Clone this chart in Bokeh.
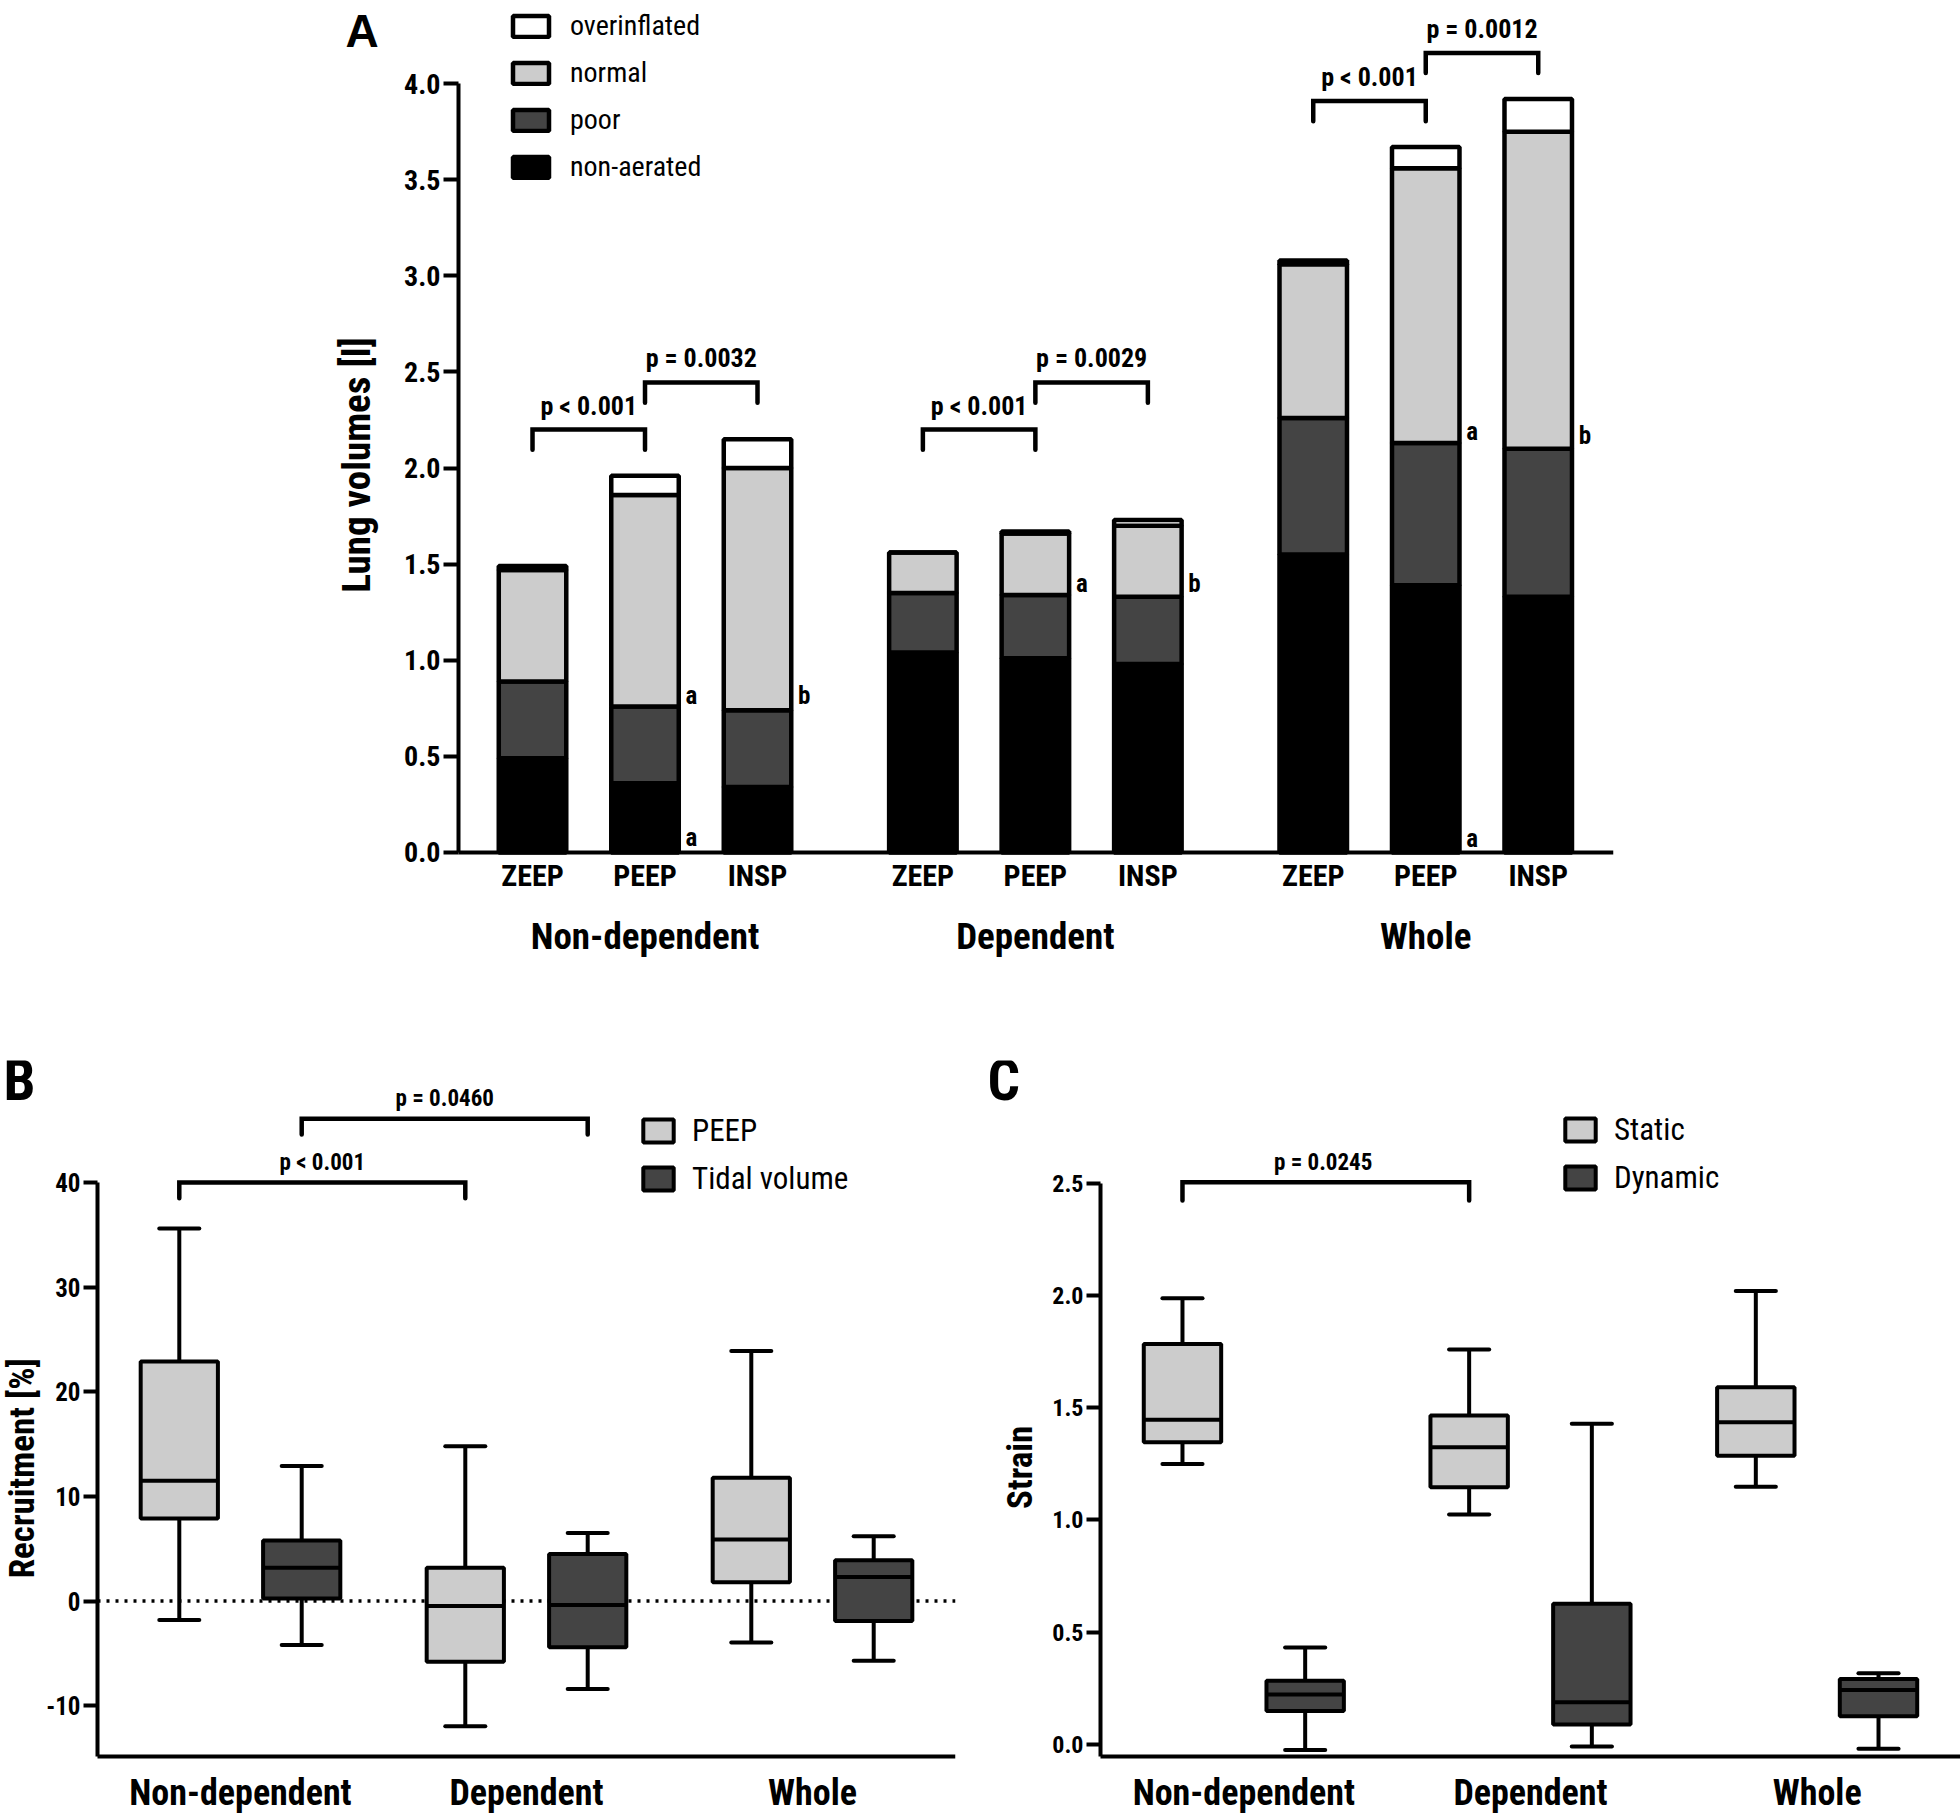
from math import pi
from bokeh.plotting import figure
from bokeh.models import (Range1d, FixedTicker, LinearAxis, NumeralTickFormatter,
                          Legend, LegendItem, ColumnDataSource)
from bokeh.layouts import column, row
from bokeh.embed import file_html
from bokeh.resources import INLINE
from bokeh.core.properties import value

# ================= DATA =================
groups = ["Non-dependent", "Dependent", "Whole"]
conditions = ["ZEEP", "PEEP", "INSP"]

# Panel A - lung volumes [l]; order: ND ZEEP/PEEP/INSP, Dep ZEEP/PEEP/INSP, Whole ZEEP/PEEP/INSP
non_aerated  = [0.49, 0.36, 0.34, 1.04, 1.01, 0.98, 1.55, 1.39, 1.33]
poor         = [0.40, 0.40, 0.40, 0.31, 0.33, 0.35, 0.71, 0.74, 0.77]
normal       = [0.58, 1.10, 1.26, 0.21, 0.32, 0.37, 0.80, 1.43, 1.65]
overinflated = [0.02, 0.10, 0.15, 0.00, 0.01, 0.03, 0.02, 0.11, 0.17]

# Panel A comparisons: (group, cond_from, cond_to, bracket level, label)
a_pvalues = [(0, 0, 1, 2.20, "p < 0.001"), (0, 1, 2, 2.445, "p = 0.0032"),
             (1, 0, 1, 2.20, "p < 0.001"), (1, 1, 2, 2.445, "p = 0.0029"),
             (2, 0, 1, 3.91, "p < 0.001"), (2, 1, 2, 4.16, "p = 0.0012")]
# Panel A significance letters: (group, cond, level, letter)
a_letters = [(0, 1, 0.815, "a"), (0, 1, 0.076, "a"), (0, 2, 0.815, "b"),
             (1, 1, 1.40, "a"), (1, 2, 1.40, "b"),
             (2, 1, 2.19, "a"), (2, 1, 0.07, "a"), (2, 2, 2.17, "b")]

# Panel B - recruitment [%] (min, Q1, median, Q3, max) per group
rec_series = ["PEEP", "Tidal volume"]
peep_low  = [-1.8, -11.95, -3.96]
peep_q1   = [7.9, -5.8, 1.8]
peep_med  = [11.5, -0.46, 5.9]
peep_q3   = [22.9, 3.2, 11.8]
peep_high = [35.6, 14.8, 23.9]
tv_low  = [-4.2, -8.4, -5.7]
tv_q1   = [0.24, -4.4, -1.9]
tv_med  = [3.2, -0.37, 2.3]
tv_q3   = [5.8, 4.5, 3.9]
tv_high = [12.9, 6.5, 6.2]
# (group_from, group_to, series index, bracket level, label)
b_pvalues = [(0, 1, 0, 40.0, "p < 0.001"), (0, 1, 1, 46.1, "p = 0.0460")]

# Panel C - strain
strain_series = ["Static", "Dynamic"]
static_low  = [1.249, 1.024, 1.148]
static_q1   = [1.346, 1.145, 1.286]
static_med  = [1.446, 1.324, 1.435]
static_q3   = [1.784, 1.465, 1.591]
static_high = [1.988, 1.759, 2.02]
dyn_low  = [-0.026, -0.01, -0.02]
dyn_q1   = [0.148, 0.088, 0.125]
dyn_med  = [0.222, 0.187, 0.242]
dyn_q3   = [0.283, 0.626, 0.291]
dyn_high = [0.431, 1.428, 0.316]
c_pvalues = [(0, 1, 0, 2.504, "p =  0.0245")]

# ================= STYLE =================
NARROW = "Roboto Condensed, Liberation Sans Narrow, Liberation Sans, sans-serif"
WIDE = "Liberation Sans, sans-serif"
LIGHT = "#cccccc"
DARK = "#444444"


def base_fig(**kw):
    p = figure(output_backend="svg", toolbar_location=None, **kw)
    p.grid.grid_line_color = None
    p.outline_line_color = None
    p.background_fill_color = "white"
    p.border_fill_color = "white"
    return p


def style_axis(ax, size, tick_out=15):
    ax.axis_line_color = "black"
    ax.axis_line_width = 4
    ax.major_tick_line_color = "black"
    ax.major_tick_line_width = 4
    ax.major_tick_out = tick_out
    ax.major_tick_in = 0
    ax.minor_tick_line_color = None
    ax.major_label_text_font = NARROW
    ax.major_label_text_font_style = "bold"
    ax.major_label_text_font_size = f"{size}px"
    ax.major_label_text_color = "black"
    ax.major_label_standoff = 3


def add_text(p, x, y, text, size, font=NARROW, bold=True, align="center",
             baseline="middle", angle=0.0):
    return p.text(x=[x], y=[y], text=[text], text_font=value(font),
                  text_font_style="bold" if bold else "normal",
                  text_font_size=f"{size}px", text_align=align, text_baseline=baseline,
                  angle=angle, text_color="black")


def add_brackets(p, x0s, x1s, levels, drop, labels, text_gap, size):
    xs = [[a, a, b, b] for a, b in zip(x0s, x1s)]
    ys = [[y - drop, y, y, y - drop] for y in levels]
    p.multi_line(xs=xs, ys=ys, line_color="black", line_width=4.5,
                 line_join="miter", line_cap="round")
    p.text(x=[(a + b) / 2 for a, b in zip(x0s, x1s)], y=[y + text_gap for y in levels],
           text=labels, text_font=value(NARROW), text_font_style="bold",
           text_font_size=f"{size}px", text_align="center", text_baseline="middle",
           text_color="black")


def style_legend(leg, size, gw, gh, standoff, spacing):
    leg.label_text_font = NARROW
    leg.label_text_font_size = f"{size}px"
    leg.label_text_color = "black"
    leg.glyph_width = gw
    leg.glyph_height = gh
    leg.label_standoff = standoff
    leg.spacing = spacing
    leg.padding = 0
    leg.margin = 0
    leg.border_line_color = None
    leg.background_fill_alpha = 0


# ================= PANEL A =================
GAP_A = 3.47
BAR_W = 0.60
A_AXIS_X = -0.658          # where the y axis stands (data units)
A_X1 = 9.609
A_PX = 112.5               # pixels per x unit
A_PY = 192.2               # pixels per litre
bar_x = [g * GAP_A + i for g in range(3) for i in range(3)]
bar_cond = [c for _ in groups for c in conditions]
group_x = [bar_x[3 * g + 1] for g in range(3)]

srcA = ColumnDataSource(dict(x=bar_x, nonaer=non_aerated, poor=poor,
                             normal=normal, over=overinflated))

A_X0 = A_AXIS_X - 458 / A_PX
A_Y1 = 4.391
A_Y0 = A_Y1 - 1040 / A_PY
pA = base_fig(width=1960, height=1048, x_range=Range1d(A_X0, A_X1),
              y_range=Range1d(A_Y0, A_Y1), min_border_left=0, min_border_right=347,
              min_border_top=8, min_border_bottom=0)

rA = pA.vbar_stack(["nonaer", "poor", "normal", "over"], x="x", width=BAR_W, source=srcA,
                   fill_color=["black", DARK, LIGHT, "white"], line_color="black",
                   line_width=4.5)

ya = pA.yaxis[0]
style_axis(ya, 28)
ya.ticker = FixedTicker(ticks=[0, 0.5, 1.0, 1.5, 2.0, 2.5, 3.0, 3.5, 4.0])
ya.formatter = NumeralTickFormatter(format="0.0")
ya.bounds = (0, 4)
ya.fixed_location = A_AXIS_X

xa = pA.xaxis[0]
style_axis(xa, 30, tick_out=0)
xa.ticker = FixedTicker(ticks=bar_x)
xa.major_label_overrides = {x: c for x, c in zip(bar_x, bar_cond)}
xa.major_tick_line_color = None
xa.major_label_standoff = 6
xa.bounds = (A_AXIS_X, A_X1)
xa.fixed_location = 0

xg = LinearAxis()
style_axis(xg, 37, tick_out=0)
xg.ticker = FixedTicker(ticks=group_x)
xg.major_label_overrides = {x: g for x, g in zip(group_x, groups)}
xg.axis_line_color = None
xg.major_tick_line_color = None
xg.major_label_standoff = 63
xg.fixed_location = 0
pA.add_layout(xg, "below")

add_brackets(pA,
             [bar_x[3 * g + i0] for g, i0, i1, y, t in a_pvalues],
             [bar_x[3 * g + i1] for g, i0, i1, y, t in a_pvalues],
             [y for g, i0, i1, y, t in a_pvalues], 0.105,
             [t for g, i0, i1, y, t in a_pvalues], 0.125, 26)

pA.text(x=[bar_x[3 * g + i] + 0.36 for g, i, y, t in a_letters],
        y=[y for g, i, y, t in a_letters], text=[t for g, i, y, t in a_letters],
        text_font=value(NARROW), text_font_style="bold", text_font_size="25px",
        text_align="left", text_baseline="middle", text_color="black")

legA = Legend(items=[LegendItem(label="overinflated", renderers=[rA[3]]),
                     LegendItem(label="normal", renderers=[rA[2]]),
                     LegendItem(label="poor", renderers=[rA[1]]),
                     LegendItem(label="non-aerated", renderers=[rA[0]])],
              location=(508, 865), orientation="vertical")
style_legend(legA, 28, 45, 26, 17, 14)
pA.add_layout(legA)

# axis title and panel letter
add_text(pA, A_AXIS_X - 101 / A_PX, 2.016, "Lung volumes [l]", 39, angle=pi / 2)
add_text(pA, A_AXIS_X - 113 / A_PX, 4.272, "A", 46, font=WIDE, align="left",
         baseline="alphabetic")

# ================= PANELS B, C =================
BOX_OFF = 0.214
BOX_W = 0.27
CAP_W = 0.14
BC_AXIS_X = -0.5
BC_X1 = 2.5


def box_series(p, xs, low, q1, med, q3, high, fill, lw=4):
    src = ColumnDataSource(dict(
        x=xs, low=low, q1=q1, med=med, q3=q3, high=high,
        cl=[x - CAP_W / 2 for x in xs], cr=[x + CAP_W / 2 for x in xs],
        bl=[x - BOX_W / 2 for x in xs], br=[x + BOX_W / 2 for x in xs]))
    p.segment(x0="x", y0="low", x1="x", y1="high", source=src, line_color="black", line_width=lw)
    p.segment(x0="cl", y0="low", x1="cr", y1="low", source=src, line_color="black",
              line_width=lw, line_cap="round")
    p.segment(x0="cl", y0="high", x1="cr", y1="high", source=src, line_color="black",
              line_width=lw, line_cap="round")
    r = p.vbar(x="x", bottom="q1", top="q3", width=BOX_W, source=src, fill_color=fill,
               line_color="black", line_width=lw)
    p.segment(x0="bl", y0="med", x1="br", y1="med", source=src, line_color="black", line_width=lw)
    return r


def box_axes(p, ticks, fmt, y_axis_top, x_axis_y, tick_size):
    ax = p.yaxis[0]
    style_axis(ax, tick_size, tick_out=14)
    ax.ticker = FixedTicker(ticks=ticks)
    ax.formatter = NumeralTickFormatter(format=fmt)
    ax.bounds = (x_axis_y, y_axis_top)
    ax.fixed_location = BC_AXIS_X
    bx = p.xaxis[0]
    style_axis(bx, 36, tick_out=0)
    bx.ticker = FixedTicker(ticks=[0, 1, 2])
    bx.major_label_overrides = {i: g for i, g in enumerate(groups)}
    bx.major_tick_line_color = None
    bx.major_label_standoff = 15
    bx.bounds = (BC_AXIS_X, BC_X1)
    bx.fixed_location = x_axis_y


def series_x(g, s):
    return g + (BOX_OFF if s else -BOX_OFF)


x_first = [series_x(g, 0) for g in range(3)]
x_second = [series_x(g, 1) for g in range(3)]

# ---- B
B_PX = 286.0
B_PY = 10.465
B_X0 = BC_AXIS_X - 97 / B_PX
B_Y1 = 51.66
B_Y0 = B_Y1 - 756 / B_PY
B_XAXIS = -14.85
pB = base_fig(width=983, height=768, x_range=Range1d(B_X0, BC_X1), y_range=Range1d(B_Y0, B_Y1),
              min_border_left=0, min_border_right=28, min_border_top=12, min_border_bottom=0)
# dotted zero reference line along the x extent of the axes
pB.segment(x0=[BC_AXIS_X], y0=[0], x1=[BC_X1], y1=[0], line_color="black", line_width=3.5,
           line_dash="3 6", level="underlay")
rb1 = box_series(pB, x_first, peep_low, peep_q1, peep_med, peep_q3, peep_high, LIGHT)
rb2 = box_series(pB, x_second, tv_low, tv_q1, tv_med, tv_q3, tv_high, DARK)
box_axes(pB, [-10, 0, 10, 20, 30, 40], "0", 40, B_XAXIS, 25)
add_brackets(pB,
             [series_x(g0, s) for g0, g1, s, y, t in b_pvalues],
             [series_x(g1, s) for g0, g1, s, y, t in b_pvalues],
             [y for g0, g1, s, y, t in b_pvalues], 1.5,
             [t for g0, g1, s, y, t in b_pvalues], 1.95, 23)
legB = Legend(items=[LegendItem(label=rec_series[0], renderers=[rb1]),
                     LegendItem(label=rec_series[1], renderers=[rb2])],
              location=(639, 619), orientation="vertical")
style_legend(legB, 31, 38, 29, 15, 11)
pB.add_layout(legB)
add_text(pB, BC_AXIS_X - 75 / B_PX, 12.7, "Recruitment [%]", 35, angle=pi / 2)
add_text(pB, BC_AXIS_X - 94 / B_PX, 49.75, "B", 57, align="left", baseline="alphabetic")

# ---- C
C_PX = 286.7
C_PY = 224.4
C_X0 = BC_AXIS_X - 117 / C_PX
C_Y1 = 3.047
C_Y0 = C_Y1 - 756 / C_PY
C_XAXIS = -0.055
pC = base_fig(width=977, height=768, x_range=Range1d(C_X0, BC_X1), y_range=Range1d(C_Y0, C_Y1),
              min_border_left=0, min_border_right=0, min_border_top=12, min_border_bottom=0)
rc1 = box_series(pC, x_first, static_low, static_q1, static_med, static_q3, static_high, LIGHT)
rc2 = box_series(pC, x_second, dyn_low, dyn_q1, dyn_med, dyn_q3, dyn_high, DARK)
box_axes(pC, [0, 0.5, 1.0, 1.5, 2.0, 2.5], "0.0", 2.5, C_XAXIS, 24)
add_brackets(pC,
             [series_x(g0, s) for g0, g1, s, y, t in c_pvalues],
             [series_x(g1, s) for g0, g1, s, y, t in c_pvalues],
             [y for g0, g1, s, y, t in c_pvalues], 0.081,
             [t for g0, g1, s, y, t in c_pvalues], 0.09, 23)
legC = Legend(items=[LegendItem(label=strain_series[0], renderers=[rc1]),
                     LegendItem(label=strain_series[1], renderers=[rc2])],
              location=(578, 620), orientation="vertical")
style_legend(legC, 31, 38, 29, 15, 11)
pC.add_layout(legC)
add_text(pC, BC_AXIS_X - 80 / C_PX, 1.234, "Strain", 35, angle=pi / 2)
add_text(pC, BC_AXIS_X - 113 / C_PX, 2.958, "C", 57, align="left", baseline="alphabetic")

layout = column(pA, row(pB, pC))
open("out.html", "w").write(file_html(layout, INLINE))
